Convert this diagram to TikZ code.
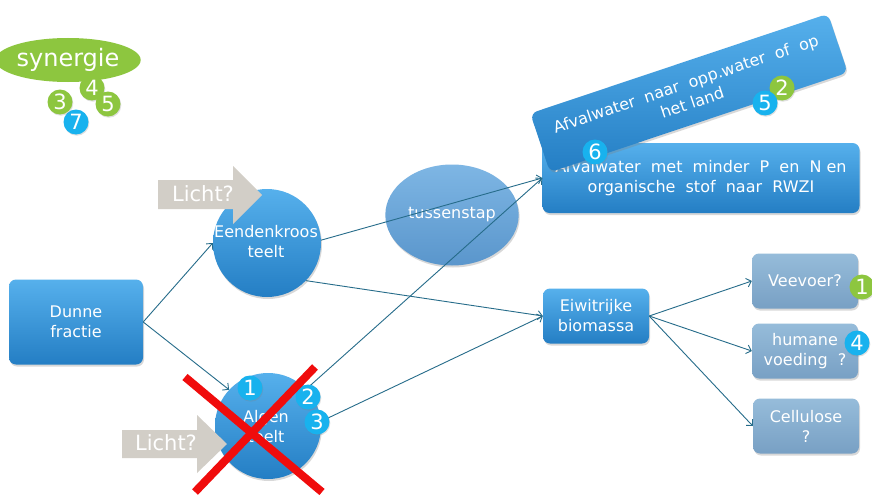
\documentclass[tikz,border=0pt]{standalone}
\usepackage{fontspec}
\setmainfont{DejaVu Sans}
\usetikzlibrary{arrows.meta,shapes.geometric,shadows}

\definecolor{boxtop}{RGB}{86,176,236}
\definecolor{boxbot}{RGB}{36,126,196}
\definecolor{paletop}{RGB}{150,188,218}
\definecolor{palebot}{RGB}{120,160,196}
\definecolor{midtop}{RGB}{126,182,228}
\definecolor{midbot}{RGB}{90,150,204}
\definecolor{linkcol}{RGB}{38,108,138}
\definecolor{lichtgrijs}{RGB}{210,206,199}
\definecolor{synergreen}{RGB}{141,198,63}
\definecolor{badgeblue}{RGB}{24,178,238}
\definecolor{crossred}{RGB}{240,12,12}

\tikzset{
  body/.style={font=\fontsize{16}{20}\selectfont},
  softshadow/.style={drop shadow={opacity=0.3,shadow xshift=1pt,shadow yshift=-2pt}},
  box/.style={rounded corners=7pt, top color=boxtop, bottom color=boxbot,
    text=white, align=center, body, inner sep=2pt, softshadow},
  palebox/.style={box, top color=paletop, bottom color=palebot},
  disc/.style={circle, top color=boxtop, bottom color=boxbot, softshadow},
  midell/.style={ellipse, top color=midtop, bottom color=midbot, text=white, body, softshadow},
  label/.style={text=white, align=center, body},
  link/.style={draw=linkcol, line width=0.9pt, -{Straight Barb[length=4.5pt,width=9pt]}},
  lightarrow/.style={fill=lichtgrijs},
  lighttext/.style={text=white, font=\fontsize{21}{21}\selectfont},
  badge/.style={circle, inner sep=0pt, minimum size=25pt, text=white,
    font=\fontsize{21}{21}\selectfont,
    drop shadow={opacity=0.25,shadow xshift=0.8pt,shadow yshift=-1.2pt}},
  gbadge/.style={badge, fill=synergreen},
  bbadge/.style={badge, fill=badgeblue},
  cross/.style={draw=crossred, line width=8pt},
}

\begin{document}
\begin{tikzpicture}[x=1pt,y=-1pt]
\fill[white] (0,0) rectangle (872,495);
\useasboundingbox (0,0) rectangle (872,495);

% synergie legend
\node[ellipse, fill=synergreen, minimum width=120pt, minimum height=44pt, inner sep=0pt,
      text=white, font=\fontsize{24}{24}\selectfont] (syn) at (68,60) {synergie};
\node[bbadge] (s7) at (76,122) {7};
\node[gbadge] (s3) at (60,102) {3};
\node[gbadge] (s4) at (92,88) {4};
\node[gbadge] (s5) at (108,104) {5};

% main blocks
\node[box, minimum width=134pt, minimum height=85pt] (dunne) at (76,322) {Dunne\\fractie};
\node[disc, minimum size=108pt] (eend) at (267,243) {};
\node[disc, minimum size=106pt] (algen) at (268,426) {};
\node[midell, minimum width=111pt, minimum height=101pt] (tussen) at (452,215) {tussenstap};
\node[box, minimum width=317pt, minimum height=70pt] (rwzi) at (701,178)
  {Afvalwater\ \ met\ \ minder\ \ P\ \ en\ \ N\ en\\organische\ \ stof\ \ naar\ \ RWZI};
\node[box, rotate=18.5, minimum width=314pt, minimum height=62pt] (land) at (689,93)
  {Afvalwater\ \ naar\ \ opp.water\ \ of\ \ op\\het land};
\node[box, minimum width=106pt, minimum height=55pt] (eiwit) at (596,316) {Eiwitrijke\\biomassa};
\node[palebox, minimum width=106pt, minimum height=55pt] (veevoer) at (805,281) {Veevoer?};
\node[palebox, minimum width=106pt, minimum height=55pt] (humaan) at (805,351) {humane\\voeding\ \ ?};
\node[palebox, minimum width=106pt, minimum height=55pt] (cellu) at (806,426) {Cellulose\\?};

% light input arrows
\fill[lightarrow] (158,180) -- (233,180) -- (233,166) -- (262,195) -- (233,224) -- (233,209) -- (158,209) -- cycle;
\node[lighttext] (licht1) at (203,194) {Licht?};
\fill[lightarrow] (122,430) -- (197,430) -- (197,415) -- (227,444) -- (197,473) -- (197,458) -- (122,458) -- cycle;
\node[lighttext] (licht2) at (166,443) {Licht?};

\node[label] (eendtxt) at (266,242) {Eendenkroos\\teelt};
\node[label] (algentxt) at (266,427) {Algen\\teelt};

% flows
\draw[link] (dunne.east) -- (eend.west);
\draw[link] (dunne.east) -- (algen.137);
\draw[link] (eend.3) -- (rwzi.west);
\draw[link] (algen.44) -- (rwzi.west);
\draw[link] (eend.-44) -- (eiwit.west);
\draw[link] (algen.5) -- (eiwit.west);
\draw[link] (eiwit.east) -- (veevoer.west);
\draw[link] (eiwit.east) -- (humaan.west);
\draw[link] (eiwit.east) -- (cellu.west);

% numbered markers
\node[bbadge] (b6) at (595,152) {6};
\node[gbadge] (b2g) at (782,88) {2};
\node[bbadge] (b5) at (765,103) {5};
\node[gbadge] (b1g) at (862,287) {1};
\node[bbadge] (b4) at (857,343) {4};
\node[bbadge] (a1) at (250,388) {1};
\node[bbadge] (a2) at (308,397) {2};
\node[bbadge] (a3) at (317,422) {3};

% crossed out
\draw[cross] (185,377) -- (322,492);
\draw[cross] (315,367) -- (195,492);
\end{tikzpicture}
\end{document}
